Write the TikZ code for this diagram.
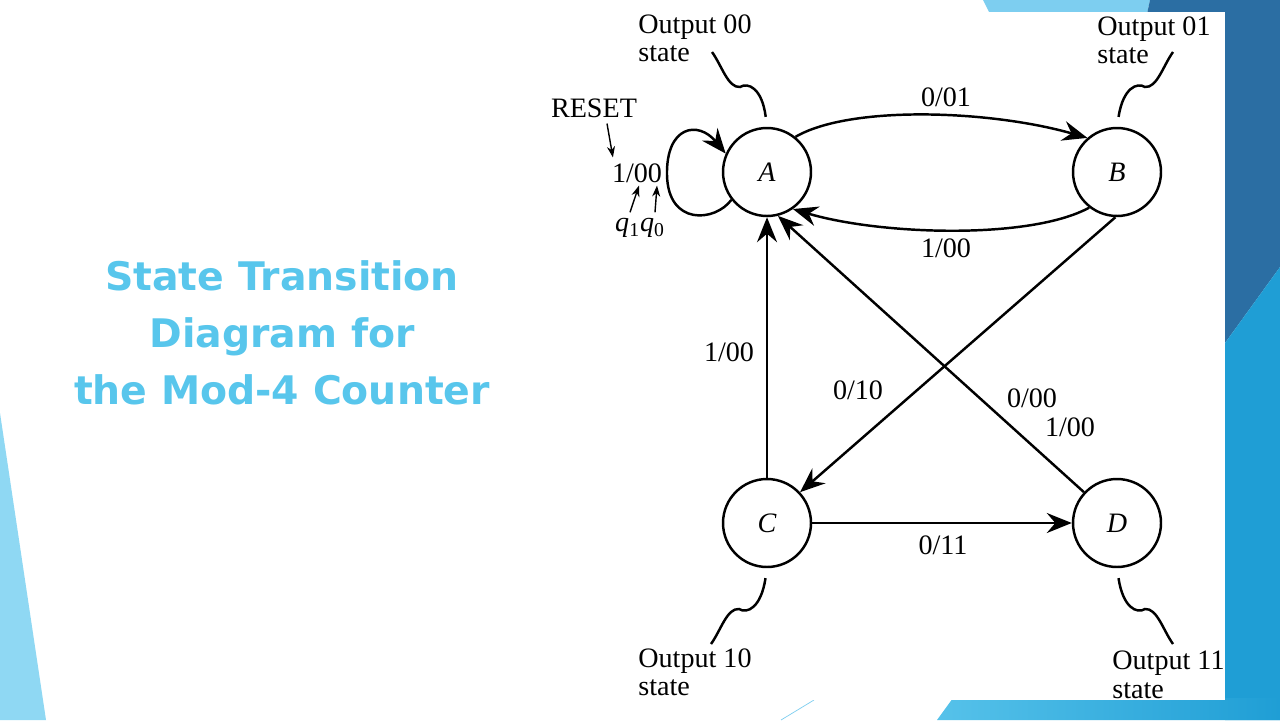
\documentclass[tikz,border=0pt]{standalone}
\usepackage{fontspec}
\setmainfont{Liberation Serif}
\newfontfamily\titlefont{DejaVu Sans}
\usetikzlibrary{arrows.meta, calc}
\definecolor{titleblue}{RGB}{88,198,236}
\definecolor{lightband}{RGB}{125,206,240}
\definecolor{darkband}{RGB}{43,110,163}
\definecolor{brightband}{RGB}{31,158,213}
\definecolor{wedgeblue}{RGB}{143,216,243}
\definecolor{bottomlight}{RGB}{86,194,234}

\begin{document}
\begin{tikzpicture}[x=0.02cm, y=-0.02cm,
  stnode/.style={circle, draw, line width=1.4pt, minimum size=1.76cm, inner sep=0pt,
    font=\fontsize{16}{16}\selectfont\itshape},
  lbl/.style={inner sep=1pt, font=\fontsize{16}{16}\selectfont},
  outlbl/.style={inner sep=0pt, align=left, anchor=north west, font=\fontsize{16}{16}\selectfont},
  trans/.style={line width=1.4pt, -{Stealth[length=0.5cm, width=0.4cm, inset=0.17cm]}},
  small/.style={line width=0.8pt, -{Stealth[length=0.22cm, width=0.16cm, inset=0.07cm]}},
  wave/.style={line width=1.4pt}]
 %slide background:
 \useasboundingbox (0,0) rectangle (1280,720);
 \fill[white] (0,0) rectangle (1280,720);
 \fill[wedgeblue] (0,413) -- (46,720) -- (0,720) -- cycle;
 \fill[lightband] (983,0) -- (1150,0) -- (1147,14) -- (990,14) -- cycle;
 \fill[darkband] (1150,0) -- (1280,0) -- (1280,267) -- (1225,343) -- (1225,14) -- (1147,14) -- cycle;
 \fill[brightband] (1225,343) -- (1280,267) -- (1280,720) -- (1225,720) -- cycle;
 \shade[left color=bottomlight, right color=brightband] (953,698) -- (1280,698) -- (1280,720) -- (937,720) -- cycle;
 \draw[lightband, line width=0.4pt] (781,720) -- (814,700);
 \fill[white] (540,12) rectangle (1225,700);

 %title
 \node[align=center, text=titleblue, inner sep=0pt,
   font=\titlefont\bfseries\fontsize{22.4pt}{32.3pt}\selectfont] (title) at (282,333)
   {State Transition\\Diagram for\\the Mod-4 Counter};

 %states
 \node[stnode] (A) at (767,172) {A};
 \node[stnode] (B) at (1117,172) {B};
 \node[stnode] (C) at (767,523) {C};
 \node[stnode] (D) at (1117,523) {D};

 %transitions
 \draw[trans] (A.51) .. controls (850,105) and (990,110) .. (B.131);
 \draw[trans] (B.232) .. controls (1030,240) and (880,235) .. (A.305);
 \draw[trans] (A.218) .. controls (715,222) and (668,226) .. (667,175) .. controls (666,126) and (698,120) .. (A.156);
 \draw[trans] (C.north) -- (A.south);
 \draw[trans] (B.268) -- (C.43);
 \draw[trans] (D.137) -- (A.284);
 \draw[trans] (C.east) -- (D.west);

 \node[lbl] (ab) at (946,97) {0/01};
 \node[lbl] (ba) at (946,248) {1/00};
 \node[lbl] (ca) at (729,352) {1/00};
 \node[lbl] (bc) at (858,390) {0/10};
 \node[lbl] (da0) at (1032,398) {0/00};
 \node[lbl] (da1) at (1070,427) {1/00};
 \node[lbl] (cd) at (943,545) {0/11};

 %reset loop labels
 \node[lbl] (reset) at (594,108) {RESET};
 \node[lbl] (loopl) at (637,173) {1/00};
 \node[lbl] (qq) at (640,228) {\textit{q}\textsubscript{1}\textit{q}\textsubscript{0}};
 \draw[small] ($(reset.south)+(13,4)$) -- ($(loopl.north west)+(3,-4)$);
 \draw[small] ($(qq.north)+(-10,-4)$) -- ($(loopl.south)+(2,1)$);
 \draw[small] ($(qq.north)+(15,-4)$) -- ($(loopl.south)+(20,1)$);

 %output states
 \node[outlbl] (outA) at (638,14) {Output 00\\state};
 \node[outlbl] (outB) at (1097,16) {Output 01\\state};
 \node[outlbl] (outC) at (638,648) {Output 10\\state};
 \node[outlbl] (outD) at (1112,651) {Output 11\\state};
 \coordinate (wA) at (712,52);
 \coordinate (wB) at (1173,52);
 \coordinate (wC) at (711,644);
 \coordinate (wD) at (1173,644);
 \draw[wave, shorten >=0.2cm] (wA) .. controls (722,66) and (728,88) .. (740,87) .. controls (748,82) and (762,88) .. (A.north);
 \draw[wave, shorten >=0.2cm] (wB) .. controls (1163,66) and (1157,88) .. (1145,87) .. controls (1137,82) and (1123,88) .. (B.north);
 \draw[wave, shorten <=0.2cm] (C.south) .. controls (761,608) and (747,614) .. (739,609) .. controls (727,608) and (721,630) .. (wC);
 \draw[wave, shorten <=0.2cm] (D.south) .. controls (1123,608) and (1137,614) .. (1145,609) .. controls (1157,608) and (1163,630) .. (wD);
\end{tikzpicture}
\end{document}
